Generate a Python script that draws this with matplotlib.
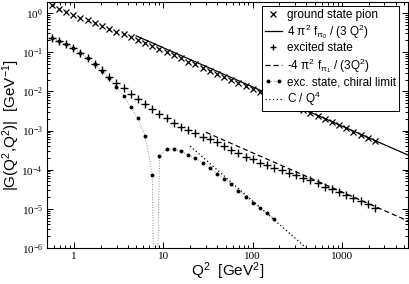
import numpy as np
import matplotlib
matplotlib.use("Agg")
import matplotlib.pyplot as plt
import matplotlib.ticker as ticker
from matplotlib.lines import Line2D
from matplotlib.legend_handler import HandlerLine2D

plt.rcParams['font.family'] = ['Liberation Sans', 'DejaVu Sans']

# Q^2 grid (GeV^2)
q2 = [0.564, 0.679, 0.817, 0.983, 1.183, 1.424, 1.714, 2.063, 2.482, 2.988,
      3.595, 4.327, 5.207, 6.266, 7.543, 9.077, 10.92, 13.15, 15.82, 19.04,
      22.92, 27.58, 33.19, 39.95, 48.08, 57.86, 69.63, 83.80, 100.8, 121.4,
      146.0, 175.8, 211.5, 254.6, 306.4, 368.7, 443.8, 534.1, 642.7, 773.5,
      931.0, 1120, 1348, 1623, 1953, 2350]

# ground state pion
g_ground = [1.57, 1.27, 1.06, 0.89, 0.76, 0.65, 0.55, 0.47, 0.40, 0.33,
            0.285, 0.245, 0.209, 0.169, 0.142, 0.119, 0.100, 0.0826, 0.0696, 0.0576,
            0.0485, 0.0406, 0.0340, 0.0285, 0.0239, 0.0199, 0.0166, 0.0139, 0.0117, 0.00983,
            0.00822, 0.00688, 0.00571, 0.00478, 0.00401, 0.00333, 0.00279, 0.00232, 0.00194, 0.00162,
            0.00135, 0.00113, 9.33e-4, 7.84e-4, 6.51e-4, 5.40e-4]

# excited state
g_excited = [0.236, 0.195, 0.161, 0.128, 0.096, 0.072, 0.051, 0.0355, 0.0235, 0.0168,
             0.0120, 0.0084, 0.0063, 0.00475, 0.00354, 0.00264, 0.00205, 0.00155, 0.00125, 0.00103,
             8.5e-4, 7.0e-4, 5.95e-4, 5.1e-4, 4.1e-4, 3.2e-4, 2.62e-4, 2.15e-4, 1.84e-4, 1.52e-4,
             1.32e-4, 1.12e-4, 9.7e-5, 8.4e-5, 7.2e-5, 6.2e-5, 5.3e-5, 4.5e-5, 3.7e-5, 3.15e-5,
             2.7e-5, 2.3e-5, 1.93e-5, 1.6e-5, 1.33e-5, 1.05e-5]

# excited state, chiral limit (first 32 grid points)
g_chiral = [0.234, 0.193, 0.159, 0.126, 0.0937, 0.0699, 0.0491, 0.0337, 0.0216, 0.0131,
            0.00775, 0.00406, 0.00205, 7.2e-4, 7.5e-5, 2.28e-4, 3.32e-4, 3.37e-4, 2.95e-4, 2.41e-4,
            1.95e-4, 1.48e-4, 1.10e-4, 7.76e-5, 5.89e-5, 4.26e-5, 2.91e-5, 2.02e-5, 1.45e-5, 1.04e-5,
            7.7e-6, 5.5e-6]
q2_zero = 8.2  # sign change of G in the chiral limit

coef_ground = 1.3      # 4 pi^2 f_pi0 / 3
coef_excited = 0.027   # -4 pi^2 f_pi1 / 3
coef_c = 0.16          # C
asym_ground = [5, 5500]
asym_excited = [30, 5500]
asym_c = [20, 500]

fig = plt.figure(figsize=(4.09, 2.84), dpi=100)
ax = fig.add_axes([47/409, 1-248/284, 361/409, 246/284])

q2 = np.array(q2)
qc = q2[:len(g_chiral)]
i0 = np.searchsorted(qc, q2_zero)
qc_line = np.insert(qc, i0, q2_zero)
gc_line = np.insert(np.array(g_chiral), i0, 1e-10)

ax.plot(qc_line, gc_line, ls=':', color='#888888', lw=0.7)
ax.plot(q2, g_ground, 'x', color='k', ms=4.8, mew=0.9)
a = np.array(asym_ground, dtype=float)
ax.plot(a, coef_ground/a, '-', color='k', lw=0.9)
ax.plot(q2, g_excited, '+', color='k', ms=5.5, mew=1.0)
a = np.array(asym_excited, dtype=float)
ax.plot(a, coef_excited/a, color='k', lw=0.9, ls=(0, (4, 2.5)))
ax.plot(qc, g_chiral, 'o', color='k', ms=2.8, mew=0)
a = np.geomspace(asym_c[0], asym_c[1], 50)
ax.plot(a, coef_c/a**2, color='k', lw=0.9, ls=(0, (1, 2)))

ax.set_xscale('log')
ax.set_yscale('log')
ax.set_xlim(0.5, 5500)
ax.set_ylim(1e-6, 1.91)
ax.xaxis.set_major_formatter(ticker.FuncFormatter(lambda v, p: f'{v:g}'))
ax.xaxis.set_minor_formatter(ticker.NullFormatter())
ax.yaxis.set_major_locator(ticker.LogLocator(base=10, numticks=20))
ax.yaxis.set_minor_locator(ticker.LogLocator(base=10, subs=np.arange(2, 10), numticks=20))
ax.yaxis.set_minor_formatter(ticker.NullFormatter())
ax.tick_params(which='both', direction='in', top=True, right=True, labelsize=8,
               labelfontfamily='Liberation Serif', width=0.7)
ax.tick_params(which='major', length=4, pad=3)
ax.tick_params(which='minor', length=2)
for s in ax.spines.values():
    s.set_linewidth(0.8)

ax.set_xlabel(r'Q$\mathregular{^2}$  [GeV$\mathregular{^2}$]', fontsize=11)
ax.set_ylabel(r'|G(Q$\mathregular{^2}$,Q$\mathregular{^2}$)|  [GeV$\mathregular{^{-1}}$]', fontsize=11)
ax.xaxis.set_label_coords(0.5, -0.05)
ax.yaxis.set_label_coords(-0.068, 0.5)

h_ground = Line2D([], [], ls='none', marker='x', color='k', ms=4, mew=0.9)
h_line0 = Line2D([], [], ls='-', color='k', lw=0.9)
h_exc = Line2D([], [], ls='none', marker='+', color='k', ms=5, mew=1.0)
h_line1 = Line2D([], [], color='k', lw=0.9, ls=(0, (4, 2.5)))
h_chiral = Line2D([], [], ls=':', color='#888888', lw=0.7, marker='o', ms=2.8,
                  mfc='k', mec='k', mew=0)
h_c = Line2D([], [], color='k', lw=0.9, ls=(0, (1, 2)))
labels = ['ground state pion',
          r'4 $\mathregular{\pi^2}$ f$\mathregular{_{\pi_0}}$ / (3 Q$\mathregular{^2}$)',
          'excited state',
          r'-4 $\mathregular{\pi^2}$ f$\mathregular{_{\pi_1}}$ / (3Q$\mathregular{^2}$)',
          'exc. state, chiral limit',
          r'C / Q$\mathregular{^4}$']
leg = ax.legend([h_ground, h_line0, h_exc, h_line1, h_chiral, h_c], labels,
                loc='upper right', bbox_to_anchor=(0.975, 0.984), borderaxespad=0,
                fontsize=8.5, frameon=True, fancybox=False, edgecolor='k',
                framealpha=1, handlelength=1.5, handletextpad=0.4, labelspacing=0.12,
                borderpad=0.25, numpoints=1,
                handler_map={h_chiral: HandlerLine2D(numpoints=2)})
leg.get_frame().set_linewidth(0.7)

fig.savefig('out.png', dpi=100)
